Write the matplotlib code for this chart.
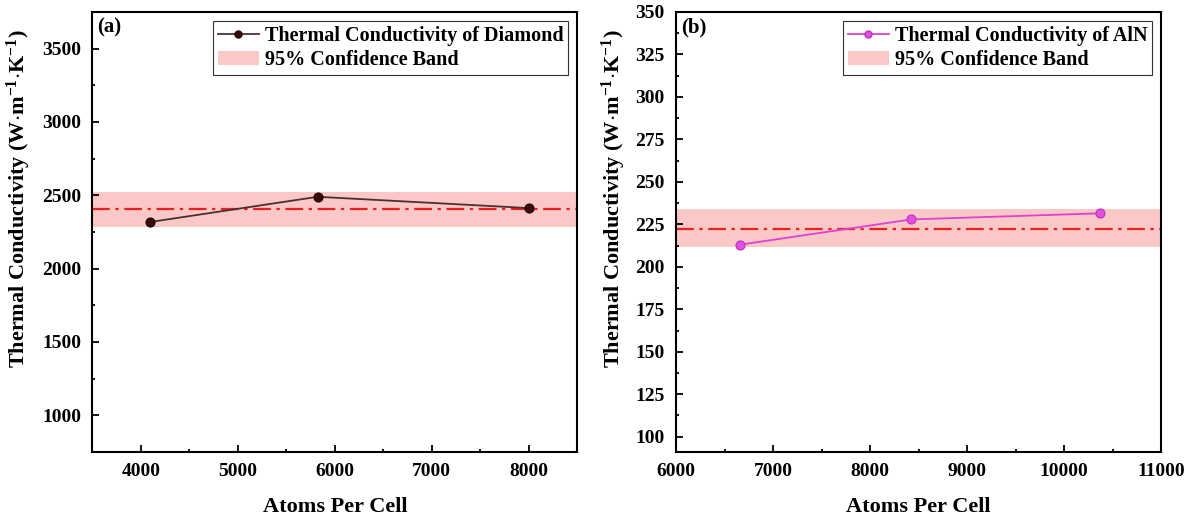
import matplotlib
matplotlib.use('Agg')
from matplotlib import pyplot as plt
from matplotlib.ticker import MultipleLocator
from matplotlib.patches import Patch
from matplotlib.lines import Line2D

plt.rcParams['font.family'] = ['Liberation Serif', 'DejaVu Serif']
plt.rcParams['font.weight'] = 'bold'
plt.rcParams['mathtext.fontset'] = 'custom'
plt.rcParams['mathtext.rm'] = 'Liberation Serif:bold'
plt.rcParams['mathtext.bf'] = 'Liberation Serif:bold'
plt.rcParams['mathtext.it'] = 'Liberation Serif:bold'

# (a) diamond
dia_atoms = [4096, 5824, 8000]
dia_k = [2318, 2490, 2413]
dia_mean = 2407
dia_band = (2287, 2525)

# (b) AlN
aln_atoms = [6656, 8424, 10368]
aln_k = [213.0, 227.9, 231.5]
aln_mean = 222.1
aln_band = (211.6, 233.8)

ylab = 'Thermal Conductivity (W$\\cdot$m$^{-1}$$\\cdot$K$^{-1}$)'


def panel(ax, x, y, mean, band, xlim, ylim, xmaj, ymaj, ymin, lc, mc, mec, name, tag):
    ax.axhspan(band[0], band[1], color='#fbc8c8', lw=0, zorder=1)
    ax.axhline(mean, color='#e8221e', lw=1.6, dashes=(8, 2.5, 1.5, 2.5), zorder=2)
    ax.plot(x, y, '-o', color=lc, lw=1.3, ms=6.5, mfc=mc, mec=mec, mew=0.8, zorder=3)
    ax.set_xlim(xlim)
    ax.set_ylim(ylim)
    ax.xaxis.set_major_locator(MultipleLocator(xmaj))
    ax.xaxis.set_minor_locator(MultipleLocator(xmaj / 2))
    ax.yaxis.set_major_locator(MultipleLocator(ymaj))
    ax.yaxis.set_minor_locator(MultipleLocator(ymin))
    ax.tick_params(which='both', direction='in', labelsize=14, width=1.3, pad=8)
    ax.tick_params(which='major', length=5)
    ax.tick_params(which='minor', length=2.5)
    for lab in ax.get_xticklabels() + ax.get_yticklabels():
        lab.set_fontweight('bold')
    for s in ax.spines.values():
        s.set_linewidth(1.5)
    ax.set_xlabel('Atoms Per Cell', fontsize=16, fontweight='bold', labelpad=12)
    ax.set_ylabel(ylab, fontsize=16, fontweight='bold')
    ax.text(0.01, 0.988, tag, transform=ax.transAxes, ha='left', va='top',
            fontsize=15, fontweight='bold')
    handles = [Line2D([], [], color=lc, lw=1.3, marker='o', ms=5, mfc=mc, mec=mec),
               Patch(facecolor='#fbc8c8', edgecolor='none')]
    leg = ax.legend(handles, [name, '95% Confidence Band'], loc='upper right',
                    prop={'weight': 'bold', 'size': 14.5}, fancybox=False,
                    framealpha=1, edgecolor='#333333', borderaxespad=0.45,
                    handlelength=2.0, handletextpad=0.3, borderpad=0.25,
                    labelspacing=0.2)
    leg.get_frame().set_linewidth(0.8)


fig = plt.figure(figsize=(11.95, 5.19), dpi=100)
ax1 = fig.add_axes([0.0772, 0.1291, 0.4059, 0.8478])
ax2 = fig.add_axes([0.5657, 0.1291, 0.4061, 0.8478])

panel(ax1, dia_atoms, dia_k, dia_mean, dia_band, (3500, 8500), (750, 3750),
      1000, 500, 250, '#4a3030', '#3a0a0a', '#200000',
      'Thermal Conductivity of Diamond', '(a)')
panel(ax2, aln_atoms, aln_k, aln_mean, aln_band, (6000, 11000), (91, 350),
      1000, 25, 12.5, '#e040d0', '#e050e0', '#c030c0',
      'Thermal Conductivity of AlN', '(b)')
ax1.yaxis.set_label_coords(-0.122, 0.575)
ax2.yaxis.set_label_coords(-0.098, 0.575)

fig.savefig('out.png', dpi=100)
